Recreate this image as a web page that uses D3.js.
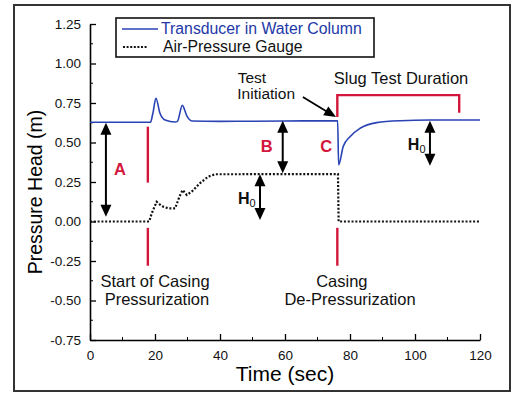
<html>
<head>
    <meta charset="UTF-8">
    <title>Slug Test</title>
    <script src="https://cdnjs.cloudflare.com/ajax/libs/d3/7.8.5/d3.min.js"></script>
    <style>
        body { margin: 0; background: #fff; }
        svg { font-family: "Liberation Sans", Arial, sans-serif; }
    </style>
</head>
<body>
    <svg id="chart" width="514" height="393"></svg>
    <script>
        // transducer in water column (blue)
        var transducerTime = [0, 18.6, 19.3, 20.3, 21.5, 23.1, 26.2, 26.9, 28.4, 29.8, 31.3, 40, 60, 76.2, 76.5, 77.9, 80, 83.1, 88.2, 95.4, 104.6, 120];
        var transducerHead = [0.628, 0.628, 0.68, 0.78, 0.687, 0.643, 0.63, 0.634, 0.735, 0.668, 0.636, 0.634, 0.636, 0.638, 0.358, 0.474, 0.537, 0.59, 0.626, 0.638, 0.642, 0.642];

        // air-pressure gauge (dotted)
        var gaugeTime = [0, 18.2, 19, 20.5, 22, 24.1, 26.2, 27.5, 28.5, 29.8, 31.3, 33.8, 36.4, 38.5, 76.3, 76.5, 120];
        var gaugeHead = [0, 0, 0.052, 0.125, 0.098, 0.083, 0.083, 0.157, 0.199, 0.168, 0.189, 0.242, 0.284, 0.299, 0.30, 0.0, 0.0];

        var xTicks = [0, 20, 40, 60, 80, 100, 120];
        var xMinor = [10, 30, 50, 70, 90, 110];
        var yTicks = [-0.75, -0.5, -0.25, 0, 0.25, 0.5, 0.75, 1.0, 1.25];
        var yMinor = [-0.625, -0.375, -0.125, 0.125, 0.375, 0.625, 0.875, 1.125];

        // red markers [t1, v1, t2, v2]
        var redMarks = [
            [17.8, 0.60, 17.8, 0.246],
            [17.8, -0.04, 17.8, -0.28],
            [76.1, -0.04, 76.1, -0.28]
        ];
        var bracket = [[76.1, 0.661], [76.1, 0.80], [113.6, 0.80], [113.6, 0.689]];

        // double headed arrows [t, vTop, vBottom]
        var arrows = [
            [4.9, 0.625, 0.03],
            [59.3, 0.638, 0.305],
            [52.3, 0.299, 0.01],
            [104.6, 0.638, 0.353]
        ];

        var redLabels = [["A", 9.2, 0.294], ["B", 54.4, 0.442], ["C", 72.7, 0.44]];
        var textLabels = [
            ["Test", 49.8, 0.876],
            ["Initiation", 54.2, 0.775],
            ["Slug Test Duration", 95.7, 0.87],
            ["Start of Casing", 20, -0.415],
            ["Pressurization", 20.6, -0.528],
            ["Casing", 77.5, -0.415],
            ["De-Pressurization", 80, -0.528]
        ];
        var hLabels = [[45.5, 0.111], [97.8, 0.453]];

        var svg = d3.select("#chart");
        var x = d3.scaleLinear().domain([0, 120]).range([90, 480]);
        var y = d3.scaleLinear().domain([-0.75, 1.25]).range([340, 24]);
        var red = "#d3173c";

        // outer frame
        svg.append("rect")
            .attr("x", 14).attr("y", 5)
            .attr("width", 496).attr("height", 386)
            .attr("fill", "none").attr("stroke", "#333").attr("stroke-width", 2);

        // axes
        var yAxis = svg.append("g")
            .attr("transform", "translate(90,0)")
            .call(d3.axisLeft(y).tickValues(yTicks).tickSizeInner(-6).tickSizeOuter(0).tickPadding(8)
                .tickFormat(d => d.toFixed(2)));
        yMinor.forEach(d => {
            yAxis.append("line")
                .attr("x1", 0).attr("x2", 3).attr("y1", y(d)).attr("y2", y(d))
                .attr("stroke", "#000");
        });

        var xAxis = svg.append("g")
            .attr("transform", "translate(0,340)")
            .call(d3.axisBottom(x).tickValues(xTicks).tickSizeInner(-6).tickSizeOuter(0).tickPadding(10)
                .tickFormat(d => d));
        xMinor.forEach(d => {
            xAxis.append("line")
                .attr("x1", x(d)).attr("x2", x(d)).attr("y1", 0).attr("y2", -3)
                .attr("stroke", "#000");
        });

        svg.selectAll(".domain").attr("stroke-width", 1.6);
        svg.selectAll(".tick line").attr("stroke-width", 1.3);
        svg.selectAll(".tick text")
            .attr("font-size", 13.5)
            .attr("font-family", "Liberation Sans, Arial, sans-serif")
            .attr("fill", "#111");
        yAxis.selectAll(".tick text").attr("dx", "-1");

        svg.append("text")
            .attr("transform", "translate(42,192) rotate(-90)")
            .attr("text-anchor", "middle")
            .attr("font-size", 19.5)
            .text("Pressure Head (m)");
        svg.append("text")
            .attr("x", 285).attr("y", 381)
            .attr("text-anchor", "middle")
            .attr("font-size", 21)
            .text("Time (sec)");

        // series
        var line = d3.line()
            .x(d => x(d[0]))
            .y(d => y(d[1]));

        var gaugeData = gaugeTime.map((t, i) => [t, gaugeHead[i]]);
        svg.append("path")
            .datum(gaugeData)
            .attr("d", line.curve(d3.curveLinear))
            .attr("fill", "none")
            .attr("stroke", "#111")
            .attr("stroke-width", 2.2)
            .attr("stroke-dasharray", "2,1.8");

        var transducerData = transducerTime.map((t, i) => [t, transducerHead[i]]);
        svg.append("path")
            .datum(transducerData)
            .attr("d", line.curve(d3.curveMonotoneX))
            .attr("fill", "none")
            .attr("stroke", "#2a43b5")
            .attr("stroke-width", 1.6);

        // red marks
        svg.selectAll("line.red")
            .data(redMarks)
            .enter()
            .append("line")
            .attr("class", "red")
            .attr("x1", d => x(d[0])).attr("y1", d => y(d[1]))
            .attr("x2", d => x(d[2])).attr("y2", d => y(d[3]))
            .attr("stroke", red).attr("stroke-width", 2.4);

        svg.append("path")
            .datum(bracket)
            .attr("d", d3.line().x(d => x(d[0])).y(d => y(d[1])))
            .attr("fill", "none")
            .attr("stroke", red).attr("stroke-width", 2.4);

        // double arrows
        function head(px, py, dir, w, l) {
            return `M${px},${py}L${px - w / 2},${py + dir * l}L${px + w / 2},${py + dir * l}Z`;
        }
        arrows.forEach(a => {
            var px = x(a[0]), y1 = y(a[1]), y2 = y(a[2]);
            svg.append("line")
                .attr("x1", px).attr("x2", px).attr("y1", y1 + 8).attr("y2", y2 - 8)
                .attr("stroke", "#000").attr("stroke-width", 2);
            svg.append("path").attr("d", head(px, y1, 1, 11, 12)).attr("fill", "#000");
            svg.append("path").attr("d", head(px, y2, -1, 11, 12)).attr("fill", "#000");
        });

        // test initiation pointer
        var p0 = [x(65.5), y(0.788)], p1 = [x(75.7), y(0.661)];
        var ang = Math.atan2(p1[1] - p0[1], p1[0] - p0[0]);
        svg.append("line")
            .attr("x1", p0[0]).attr("y1", p0[1])
            .attr("x2", p1[0] - 8 * Math.cos(ang)).attr("y2", p1[1] - 8 * Math.sin(ang))
            .attr("stroke", "#000").attr("stroke-width", 1.8);
        svg.append("path")
            .attr("d", `M0,0L-12,-5L-12,5Z`)
            .attr("transform", `translate(${p1[0]},${p1[1]}) rotate(${ang * 180 / Math.PI})`)
            .attr("fill", "#000");

        // labels
        svg.selectAll("text.red")
            .data(redLabels)
            .enter()
            .append("text")
            .attr("class", "red")
            .attr("x", d => x(d[1])).attr("y", d => y(d[2]))
            .attr("text-anchor", "middle")
            .attr("font-size", 16.5).attr("font-weight", "bold")
            .attr("fill", red)
            .text(d => d[0]);

        svg.selectAll("text.note")
            .data(textLabels)
            .enter()
            .append("text")
            .attr("class", "note")
            .attr("x", d => x(d[1])).attr("y", d => y(d[2]))
            .attr("text-anchor", "middle")
            .attr("font-size", d => d[0] == "Test" || d[0] == "Initiation" ? 15.5 : 16.5)
            .attr("fill", "#111")
            .text(d => d[0]);

        hLabels.forEach(h => {
            var t = svg.append("text")
                .attr("x", x(h[0])).attr("y", y(h[1]))
                .attr("font-size", 16).attr("font-weight", "bold").attr("fill", "#111");
            t.append("tspan").text("H");
            t.append("tspan").attr("dy", 3).attr("font-size", 11).attr("font-weight", "normal").text("0");
        });

        // legend
        var legend = svg.append("g");
        legend.append("rect")
            .attr("x", 116).attr("y", 18).attr("width", 258).attr("height", 39)
            .attr("fill", "#fff").attr("stroke", "#111").attr("stroke-width", 1.6);
        legend.append("line")
            .attr("x1", 122).attr("x2", 158).attr("y1", 29).attr("y2", 29)
            .attr("stroke", "#2a43b5").attr("stroke-width", 1.6);
        legend.append("text")
            .attr("x", 161).attr("y", 33.5)
            .attr("font-size", 15.8).attr("fill", "#2238a8")
            .text("Transducer in Water Column");
        legend.append("line")
            .attr("x1", 123).attr("x2", 147).attr("y1", 47).attr("y2", 47)
            .attr("stroke", "#111").attr("stroke-width", 2).attr("stroke-dasharray", "2,1.6");
        legend.append("text")
            .attr("x", 163).attr("y", 52)
            .attr("font-size", 15.8).attr("fill", "#111")
            .text("Air-Pressure Gauge");
    </script>
</body>
</html>
